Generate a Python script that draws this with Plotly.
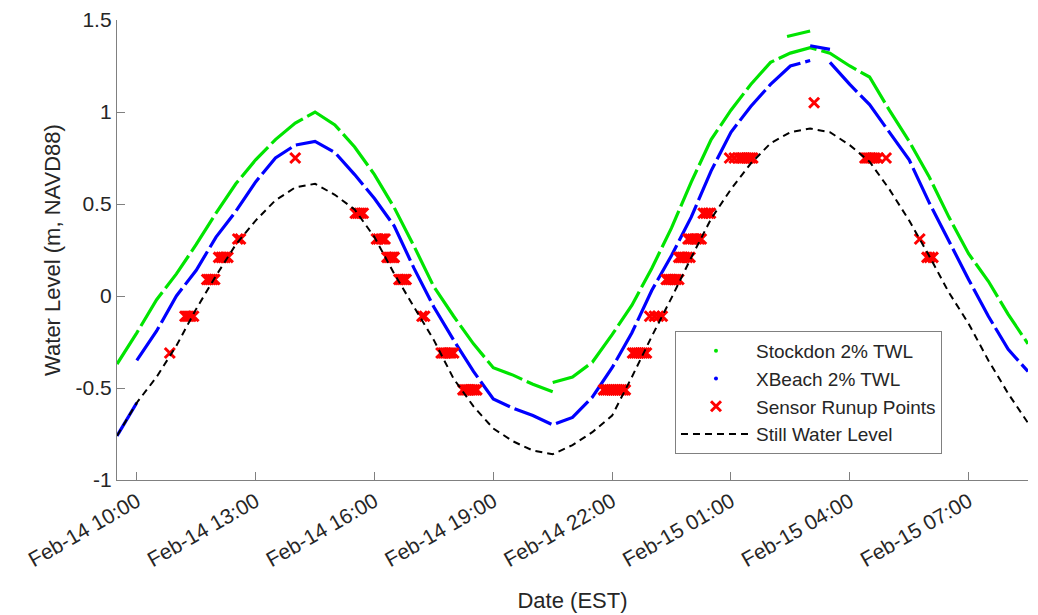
import plotly.graph_objects as go

YEAR_MONTH = "2018-02-"


def stamp(t):
    """'14 09:30' -> '2018-02-14 09:30'; None stays None (line break)."""
    return None if t is None else YEAR_MONTH + t


# ---- Still water level (m, NAVD88) ----
swl_time = [
    "14 09:30", "14 10:00", "14 10:30", "14 11:00", "14 11:30", "14 12:00", "14 12:30",
    "14 13:00", "14 13:30", "14 14:00", "14 14:30", "14 15:00", "14 15:30", "14 16:00",
    "14 16:30", "14 17:00", "14 17:30", "14 18:00", "14 18:30", "14 19:00", "14 19:30",
    "14 20:00", "14 20:30", "14 21:00", "14 21:30", "14 22:00", "14 22:30", "14 23:00",
    "14 23:30", "15 00:00", "15 00:30", "15 01:00", "15 01:30", "15 02:00", "15 02:30",
    "15 03:00", "15 03:30", "15 04:00", "15 04:30", "15 05:00", "15 05:30", "15 06:00",
    "15 06:30", "15 07:00", "15 07:30", "15 08:00", "15 08:30",
]
swl_level = [
    -0.76, -0.58, -0.44, -0.27, -0.07, 0.11, 0.28,
    0.41, 0.52, 0.59, 0.61, 0.55, 0.47, 0.32,
    0.12, -0.06, -0.24, -0.45, -0.60, -0.72, -0.79,
    -0.84, -0.86, -0.81, -0.74, -0.65, -0.44, -0.22,
    -0.01, 0.21, 0.42, 0.58, 0.72, 0.83, 0.89,
    0.91, 0.89, 0.82, 0.73, 0.58, 0.41, 0.22,
    0.02, -0.15, -0.35, -0.53, -0.69,
]

# ---- XBeach 2% total water level ----
xbeach_time = [
    "14 09:30", "14 10:00", None, "14 10:00", "14 10:30", "14 11:00", "14 11:30",
    "14 12:00", "14 12:30", "14 13:00", "14 13:30", "14 14:00", "14 14:30", "14 15:00",
    "14 15:30", "14 16:00", "14 16:30", "14 17:00", "14 17:30", "14 18:00", "14 18:30",
    "14 19:00", "14 19:30", "14 20:00", "14 20:30", "14 21:00", "14 21:30", "14 22:00",
    "14 22:30", "14 23:00", "14 23:30", "15 00:00", "15 00:30", "15 01:00", "15 01:30",
    "15 02:00", "15 02:30", "15 03:00", None, "15 03:00", "15 03:30", None, "15 03:30",
    "15 04:00", "15 04:30", "15 05:00", "15 05:30", "15 06:00", "15 06:30", "15 07:00",
    "15 07:30", "15 08:00", "15 08:30",
]
xbeach_level = [
    -0.76, -0.58, None, -0.35, -0.19, 0.00, 0.14,
    0.32, 0.46, 0.62, 0.75, 0.82, 0.84, 0.78,
    0.66, 0.53, 0.38, 0.15, -0.06, -0.24, -0.41,
    -0.56, -0.61, -0.65, -0.70, -0.66, -0.55, -0.39,
    -0.20, 0.03, 0.22, 0.43, 0.68, 0.89, 1.03,
    1.15, 1.25, 1.28, None, 1.36, 1.34, None, 1.27,
    1.15, 1.04, 0.89, 0.74, 0.51, 0.30, 0.09,
    -0.11, -0.29, -0.41,
]

# ---- Stockdon 2% total water level ----
stockdon_time = [
    "14 09:30", "14 10:00", "14 10:30", "14 11:00", "14 11:30", "14 12:00", "14 12:30",
    "14 13:00", "14 13:30", "14 14:00", "14 14:30", "14 15:00", "14 15:30", "14 16:00",
    "14 16:30", "14 17:00", "14 17:30", "14 18:00", "14 18:30", "14 19:00", "14 19:30",
    "14 20:00", "14 20:30", None, "14 20:30", "14 21:00", "14 21:30", "14 22:00",
    "14 22:30", "14 23:00", "14 23:30", "15 00:00", "15 00:30", "15 01:00", "15 01:30",
    "15 02:00", "15 02:30", "15 03:00", "15 03:30", "15 04:00", "15 04:30", "15 05:00",
    "15 05:30", "15 06:00", "15 06:30", "15 07:00", "15 07:30", "15 08:00", "15 08:30",
    None, "15 02:25", "15 03:00",
]
stockdon_level = [
    -0.37, -0.20, -0.02, 0.12, 0.28, 0.45, 0.61,
    0.74, 0.85, 0.94, 1.00, 0.93, 0.81, 0.66,
    0.48, 0.27, 0.05, -0.11, -0.26, -0.39, -0.43,
    -0.48, -0.52, None, -0.47, -0.44, -0.36, -0.21,
    -0.05, 0.15, 0.37, 0.62, 0.85, 1.01, 1.15,
    1.27, 1.32, 1.35, 1.32, 1.25, 1.19, 1.01,
    0.84, 0.65, 0.43, 0.23, 0.08, -0.10, -0.26,
    None, 1.41, 1.44,
]

# ---- Sensor runup points ----
sensor_time = [
    "14 10:50",
    "14 11:13", "14 11:16", "14 11:19", "14 11:22", "14 11:26",
    "14 11:46", "14 11:49", "14 11:52", "14 11:55", "14 11:58",
    "14 12:04", "14 12:08", "14 12:11", "14 12:14", "14 12:18",
    "14 12:33", "14 12:37",
    "14 14:00",
    "14 15:31", "14 15:34", "14 15:37", "14 15:40", "14 15:43",
    "14 16:03", "14 16:06", "14 16:10", "14 16:13", "14 16:16",
    "14 16:19", "14 16:22", "14 16:25", "14 16:28", "14 16:30",
    "14 16:37", "14 16:40", "14 16:43", "14 16:46", "14 16:48",
    "14 17:12", "14 17:16",
    "14 17:41", "14 17:44", "14 17:47", "14 17:50", "14 17:53", "14 17:56", "14 18:00",
    "14 18:14", "14 18:17", "14 18:20", "14 18:23", "14 18:26", "14 18:29", "14 18:32", "14 18:35",
    "14 21:47", "14 21:50", "14 21:53", "14 21:56", "14 21:59", "14 22:02", "14 22:05",
    "14 22:08", "14 22:11", "14 22:14", "14 22:17", "14 22:20",
    "14 22:31", "14 22:34", "14 22:37", "14 22:40", "14 22:43", "14 22:46", "14 22:49", "14 22:52",
    "14 22:57", "14 23:04", "14 23:10", "14 23:16",
    "14 23:22", "14 23:25", "14 23:28", "14 23:31", "14 23:34", "14 23:37", "14 23:41",
    "14 23:41", "14 23:44", "14 23:47", "14 23:50", "14 23:54", "14 23:58",
    "14 23:55", "14 23:58", "15 00:02", "15 00:05", "15 00:08", "15 00:12", "15 00:15",
    "15 00:18", "15 00:22", "15 00:26", "15 00:29",
    "15 00:58", "15 01:05", "15 01:12", "15 01:15", "15 01:18", "15 01:21", "15 01:24",
    "15 01:27", "15 01:30", "15 01:33",
    "15 03:06",
    "15 04:23", "15 04:26", "15 04:29", "15 04:32", "15 04:35", "15 04:38", "15 04:43", "15 04:55",
    "15 05:46",
    "15 05:57", "15 06:01", "15 06:06",
]
sensor_level = [
    -0.31,
    -0.11, -0.11, -0.11, -0.11, -0.11,
    0.09, 0.09, 0.09, 0.09, 0.09,
    0.21, 0.21, 0.21, 0.21, 0.21,
    0.31, 0.31,
    0.75,
    0.45, 0.45, 0.45, 0.45, 0.45,
    0.31, 0.31, 0.31, 0.31, 0.31,
    0.21, 0.21, 0.21, 0.21, 0.21,
    0.09, 0.09, 0.09, 0.09, 0.09,
    -0.11, -0.11,
    -0.31, -0.31, -0.31, -0.31, -0.31, -0.31, -0.31,
    -0.51, -0.51, -0.51, -0.51, -0.51, -0.51, -0.51, -0.51,
    -0.51, -0.51, -0.51, -0.51, -0.51, -0.51, -0.51,
    -0.51, -0.51, -0.51, -0.51, -0.51,
    -0.31, -0.31, -0.31, -0.31, -0.31, -0.31, -0.31, -0.31,
    -0.11, -0.11, -0.11, -0.11,
    0.09, 0.09, 0.09, 0.09, 0.09, 0.09, 0.09,
    0.21, 0.21, 0.21, 0.21, 0.21, 0.21,
    0.31, 0.31, 0.31, 0.31, 0.31, 0.31, 0.31,
    0.45, 0.45, 0.45, 0.45,
    0.75, 0.75, 0.75, 0.75, 0.75, 0.75, 0.75,
    0.75, 0.75, 0.75,
    1.05,
    0.75, 0.75, 0.75, 0.75, 0.75, 0.75, 0.75, 0.75,
    0.31,
    0.21, 0.21, 0.21,
]

# ---- Axis ticks ----
x_tick_times = ["14 10:00", "14 13:00", "14 16:00", "14 19:00", "14 22:00",
                "15 01:00", "15 04:00", "15 07:00"]
y_tick_vals = [-1, -0.5, 0, 0.5, 1, 1.5]
y_tick_text = ["-1", "-0.5", "0", "0.5", "1", "1.5"]

GREEN = "#00e400"
BLUE = "#0000ff"
RED = "#ff0000"
FONT = "Liberation Sans, Arial, Helvetica, sans-serif"
TEXT = "#262626"
AXIS = "#808080"

fig = go.Figure()

fig.add_trace(go.Scatter(
    x=[stamp(t) for t in stockdon_time], y=stockdon_level, mode="lines",
    line=dict(color=GREEN, width=3.2, dash="40px,5px"),
    showlegend=False, hoverinfo="skip", connectgaps=False,
))
fig.add_trace(go.Scatter(
    x=[stamp(t) for t in xbeach_time], y=xbeach_level, mode="lines",
    line=dict(color=BLUE, width=3.2, dash="40px,5px"),
    showlegend=False, hoverinfo="skip", connectgaps=False,
))

# legend entries for the two TWL series (drawn as dots)
fig.add_trace(go.Scatter(
    x=[None], y=[None], mode="markers", name="Stockdon 2% TWL",
    marker=dict(color=GREEN, size=4),
))
fig.add_trace(go.Scatter(
    x=[None], y=[None], mode="markers", name="XBeach 2% TWL",
    marker=dict(color=BLUE, size=4),
))

fig.add_trace(go.Scatter(
    x=[stamp(t) for t in sensor_time], y=sensor_level, mode="markers",
    name="Sensor Runup Points",
    marker=dict(symbol="x-thin", size=10, color=RED, line=dict(color=RED, width=3)),
))
fig.add_trace(go.Scatter(
    x=[stamp(t) for t in swl_time], y=swl_level, mode="lines",
    name="Still Water Level",
    line=dict(color="black", width=2, dash="7px,5px"),
))

fig.update_layout(
    width=1038, height=615,
    margin=dict(l=117, r=10, t=20, b=135, autoexpand=False),
    paper_bgcolor="white", plot_bgcolor="white",
    font=dict(family=FONT, color=TEXT, size=21),
    showlegend=True,
    legend=dict(
        x=0.6125, y=0.324, xanchor="left", yanchor="top",
        bgcolor="white", bordercolor=AXIS, borderwidth=1,
        font=dict(size=19, color=TEXT, family=FONT),
        itemwidth=70, tracegroupgap=0,
    ),
)

fig.update_xaxes(
    range=[stamp("14 09:30"), stamp("15 08:30")],
    tickvals=[stamp(t) for t in x_tick_times],
    tickformat="%b-%d %H:%M", tickangle=-30,
    ticks="inside", ticklen=8, tickcolor=AXIS, tickwidth=1,
    showline=True, linecolor=AXIS, linewidth=1.3, mirror=False,
    showgrid=False, zeroline=False, automargin=False,
    tickfont=dict(size=21, color=TEXT, family=FONT),
    title=dict(text="Date (EST)", standoff=22,
               font=dict(size=22, color=TEXT, family=FONT)),
)
fig.update_yaxes(
    range=[-1, 1.5],
    tickvals=y_tick_vals, ticktext=y_tick_text,
    ticks="inside", ticklen=8, tickcolor=AXIS, tickwidth=1,
    showline=True, linecolor=AXIS, linewidth=1.3, mirror=False,
    showgrid=False, zeroline=False, automargin=False,
    tickfont=dict(size=21, color=TEXT, family=FONT),
    title=dict(text="Water Level (m, NAVD88)", standoff=8,
               font=dict(size=22, color=TEXT, family=FONT)),
)

fig.write_html("out.html")
